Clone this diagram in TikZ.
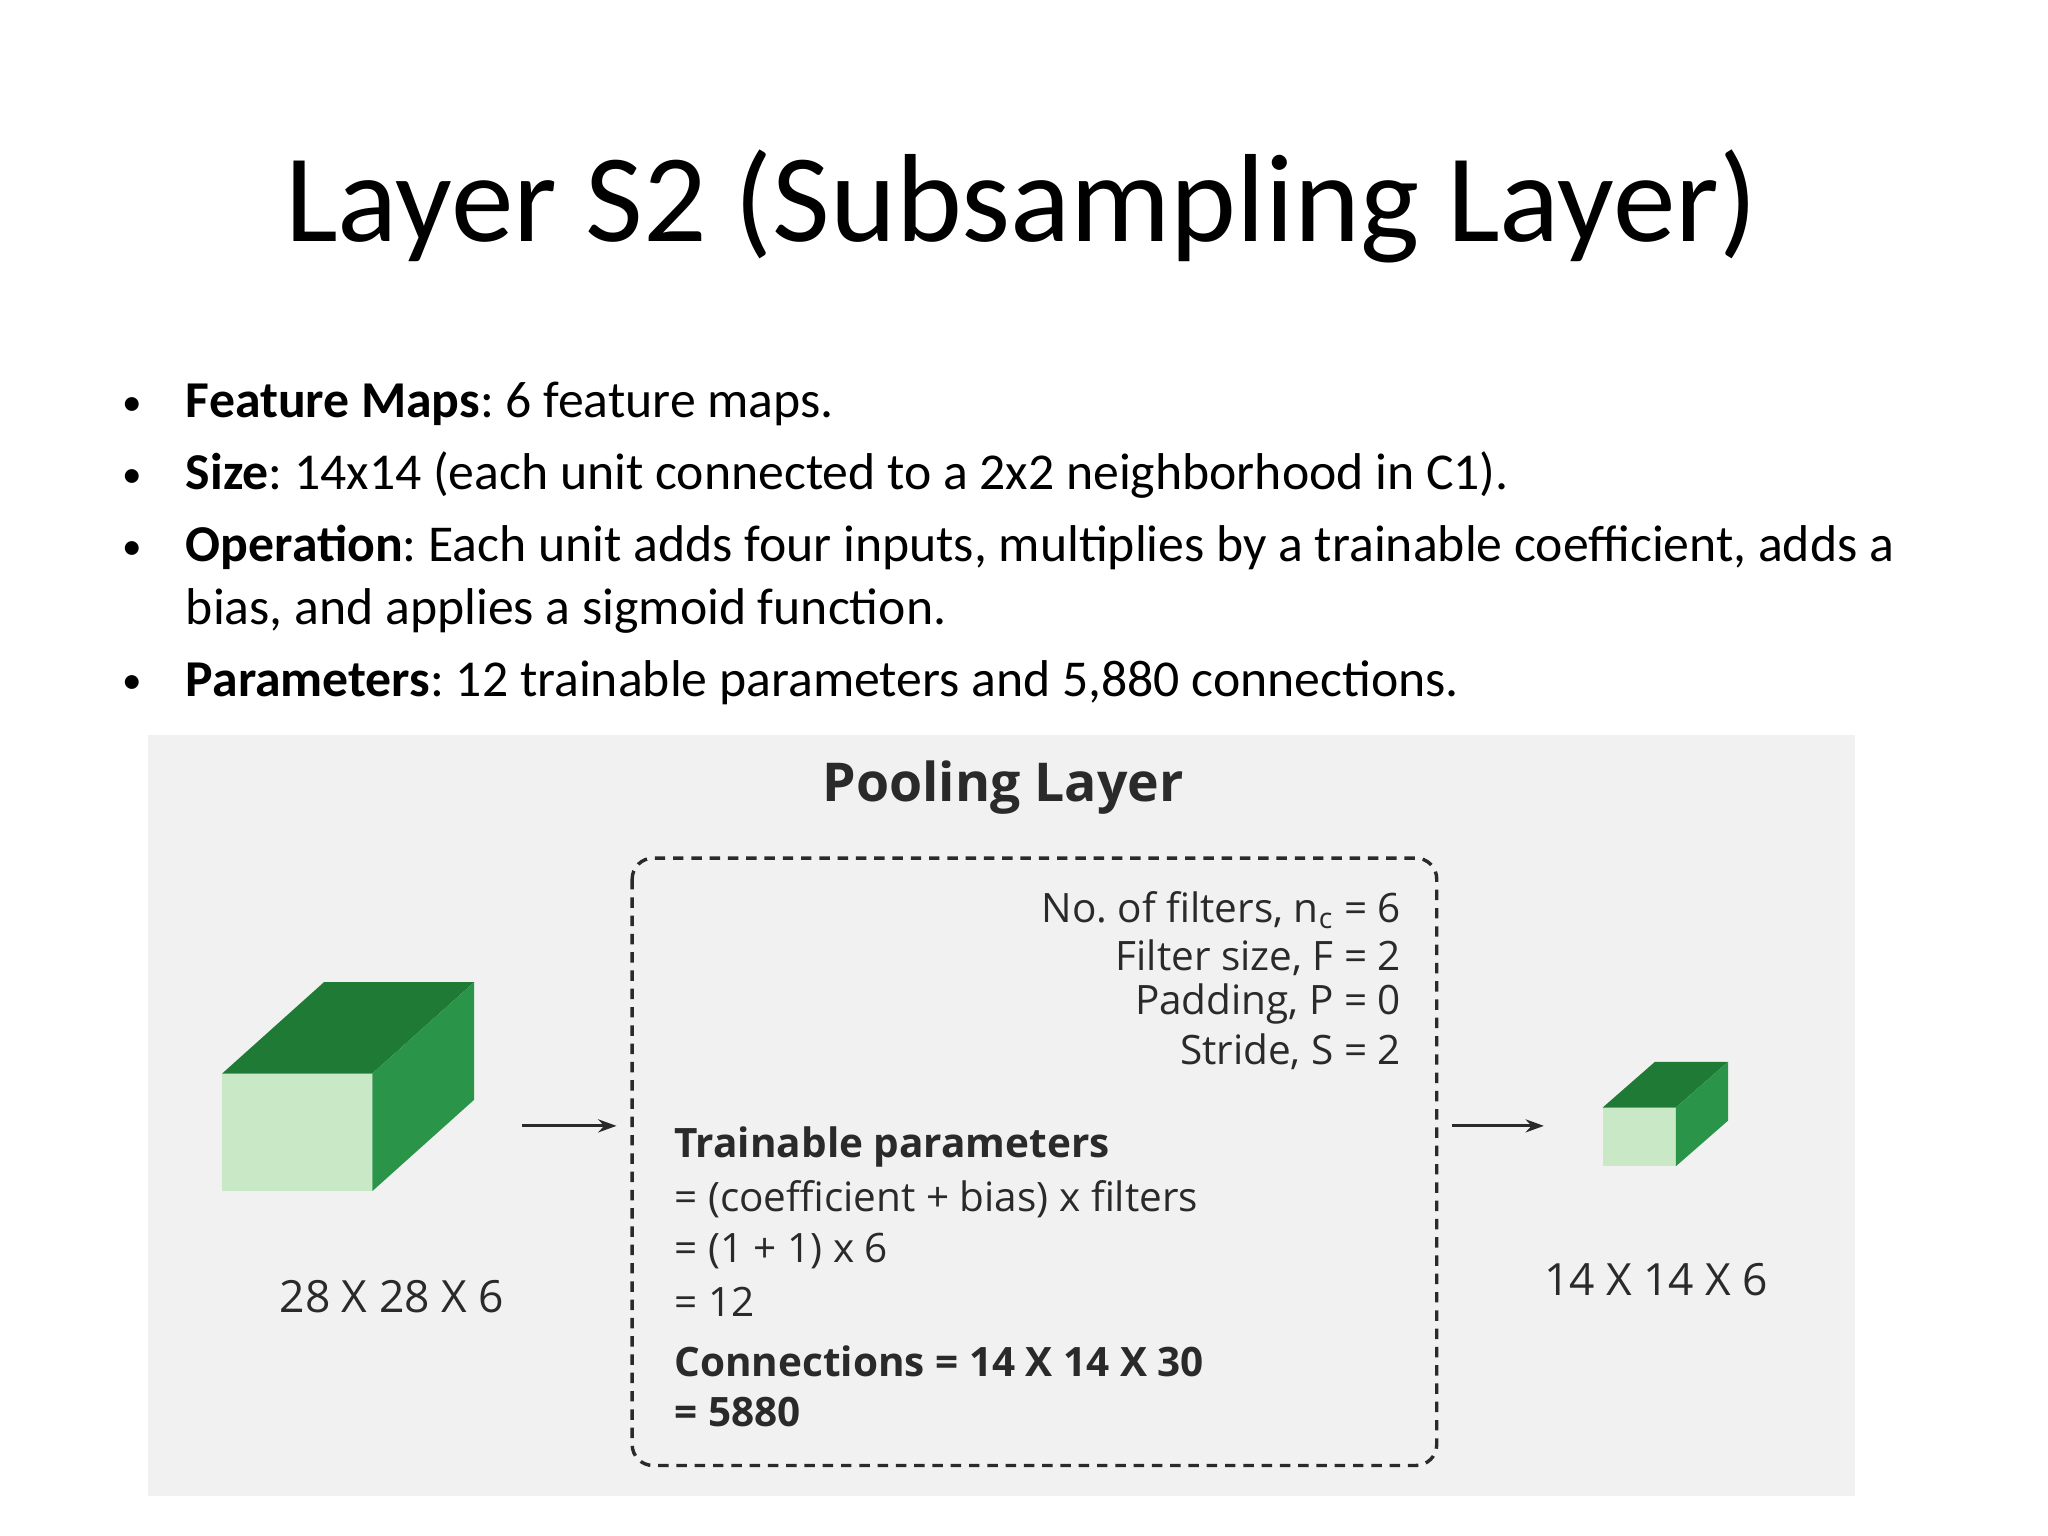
\documentclass[tikz,border=0pt]{standalone}
\usepackage{fontspec}
\setmainfont{Carlito}
\newfontfamily\panelfont{Open Sans}
\usetikzlibrary{arrows.meta}
\definecolor{panel}{HTML}{F1F1F1}
\definecolor{gtop}{HTML}{1E7A34}
\definecolor{gside}{HTML}{2A9549}
\definecolor{gfront}{HTML}{C9E8C6}
\definecolor{ptext}{HTML}{2A2A2A}
\tikzset{
  bul/.style={anchor=base west,font=\fontsize{19.8}{24}\selectfont,inner sep=0},
  dot/.style={anchor=base,font=\fontsize{15}{18}\selectfont,inner sep=0},
  ptxt/.style={font=\panelfont\fontsize{15.5}{18}\selectfont,text=ptext,inner sep=0},
  arr/.style={-{Stealth[length=7pt,width=5pt]},line width=1.1pt,ptext}
}
\begin{document}
\frenchspacing
\begin{tikzpicture}[x=0.5pt,y=-0.5pt]
\useasboundingbox (0,0) rectangle (1568,1176);
\node[font=\fontsize{48}{58}\selectfont,anchor=base] (title) at (782,185) {Layer S2 (Subsampling Layer)};
\foreach \yy/\nm in {318/b1,373/b2,428/b3,531/b4}{\node[dot] (\nm) at (101,\yy) {•};}
\node[bul] (t1) at (142,320) {\textbf{Feature Maps}: 6 feature maps.};
\node[bul] (t2) at (142,375) {\textbf{Size}: 14x14 (each unit connected to a 2x2 neighborhood in C1).};
\node[bul] (t3) at (142,430) {\textbf{Operation}: Each unit adds four inputs, multiplies by a trainable coefficient, adds a};
\node[bul] (t3b) at (142,478) {bias, and applies a sigmoid function.};
\node[bul] (t4) at (142,533) {\textbf{Parameters}: 12 trainable parameters and 5,880 connections.};
% panel
\fill[panel] (113,563) rectangle (1420,1145);
\node[ptxt,font=\panelfont\bfseries\fontsize{20.5}{24}\selectfont] (pl) at (768,603) {Pooling Layer};
\draw[line width=1.3pt,rounded corners=8pt,ptext,dash pattern=on 4pt off 3pt] (484,657) rectangle (1100,1122);
% big cube
\fill[gfront] (170,822) rectangle (285,912);
\fill[gtop] (170,822) -- (285,822) -- (363,752) -- (248,752) -- cycle;
\fill[gside] (285,822) -- (363,752) -- (363,842) -- (285,912) -- cycle;
\node[ptxt,font=\panelfont\fontsize{17}{20}\selectfont] (l1) at (300,993) {28 X 28 X 6};
% small cube
\fill[gfront] (1227,848) rectangle (1283,893);
\fill[gtop] (1227,848) -- (1283,848) -- (1323,813) -- (1267,813) -- cycle;
\fill[gside] (1283,848) -- (1323,813) -- (1323,858) -- (1283,893) -- cycle;
\node[ptxt,font=\panelfont\fontsize{17}{20}\selectfont] (l2) at (1268,980) {14 X 14 X 6};
\coordinate (a1s) at (400,862); \coordinate (a1e) at (472,862);
\coordinate (a2s) at (1112,862); \coordinate (a2e) at (1182,862);
\draw[arr] (a1s) -- (a1e);
\draw[arr] (a2s) -- (a2e);
% right texts
\node[ptxt,anchor=east] (r1) at (1073,697) {No. of filters, n\textsubscript{c} = 6};
\node[ptxt,anchor=east] (r2) at (1073,733) {Filter size, F = 2};
\node[ptxt,anchor=east] (r3) at (1073,769) {Padding, P = 0};
\node[ptxt,anchor=east] (r4) at (1073,805) {Stride, S = 2};
% left texts
\node[ptxt,anchor=west,font=\panelfont\bfseries\fontsize{15.5}{18}\selectfont] (p1) at (516,878) {Trainable parameters};
\node[ptxt,anchor=west] (p2) at (516,918) {= (coefficient + bias) x filters};
\node[ptxt,anchor=west] (p3) at (516,958) {= (1 + 1) x 6};
\node[ptxt,anchor=west] (p4) at (516,997) {= 12};
\node[ptxt,anchor=west,font=\panelfont\bfseries\fontsize{15.5}{18}\selectfont] (p5) at (516,1042) {Connections = 14 X 14 X 30};
\node[ptxt,anchor=west,font=\panelfont\bfseries\fontsize{15.5}{18}\selectfont] (p6) at (516,1081) {= 5880};
\end{tikzpicture}
\end{document}
